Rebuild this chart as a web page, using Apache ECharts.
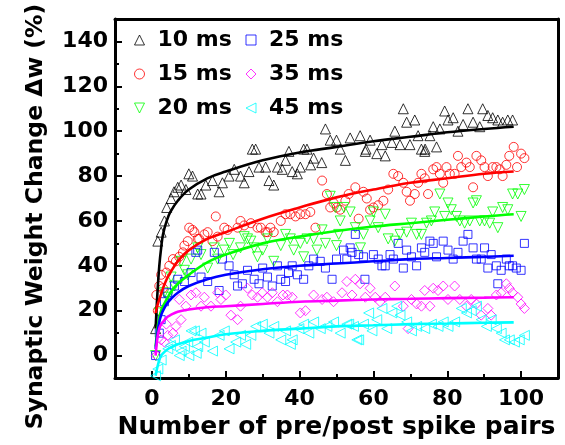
<!DOCTYPE html>
<html><head><meta charset="utf-8">
<script src="https://cdn.jsdelivr.net/npm/echarts@6/dist/echarts.min.js"></script>
<style>html,body{margin:0;padding:0;background:#fff}#c{width:565px;height:445px}</style>
</head><body><div id="c"></div>
<script>
const xTicks = [0,20,40,60,80,100];
const yTicks = [0,20,40,60,80,100,120,140];
const seriesNames = ['10 ms','15 ms','20 ms','25 ms','35 ms','45 ms'];
const xTitle = 'Number of pre/post spike pairs';
const yTitle = 'Synaptic Weight Change \u0394w (%)';

const t10 = [[1,12],[1.6,51],[2.5,55],[3.4,60],[4,66],[5.2,70],[6,73],[7,75],[7.9,76],[9.2,74],[10,81],[11,80],[12.4,72],[13.3,72],[14.6,76],[16.4,78],[18.2,73],[19.1,77],[20.9,80],[22.3,83],[24,80],[25,77],[26.3,82],[27.2,92],[28.1,92],[29,84],[30.8,84],[31.7,78],[33,76],[34,84],[35.3,83],[36.2,87],[37.1,91],[38,82],[39.4,81],[40.2,84],[41.1,92],[42,92],[43,85],[43.8,88],[46,86],[47,101],[48.3,96],[50,96],[51,92],[52.4,87],[53.7,97],[56.4,98],[57.8,91],[58,92],[59.1,96],[60.9,90],[62.3,94],[63.2,89],[65,95],[65.8,100],[67.2,94],[68.1,110],[69,104],[69.9,94],[71.2,105],[72.1,98],[73,92],[73.9,91],[74,92],[75.3,98],[76.2,102],[77.1,93],[78,101],[79.3,109],[80.2,105],[81.6,106],[82.9,100],[84.3,103],[85.6,110],[87,104],[88.8,102],[89.6,110],[91,107],[92.3,106],[93.7,105],[95,104],[96.4,105],[97.7,105]];
const t15 = [[1.2,27],[1.6,20],[2,31],[2.5,36],[3,30],[3.9,37],[4.7,40],[5.7,43],[6.5,42],[7.4,44],[8.4,46],[8.8,49],[9.7,51],[10.1,57],[11,56],[11.5,55],[12.4,52],[12.8,52],[14.2,54],[15.1,55],[16.4,51],[17.3,62],[17.8,53],[19.6,57],[20.5,56],[23.2,57],[24,60],[25,58],[26.8,59],[28.6,57],[29.5,57],[30.8,55],[31.3,55],[32.1,57],[33,55],[34.9,60],[36.2,63],[37.5,63],[38.9,62],[40.2,63],[41.6,63],[42.9,64],[44.3,57],[46.1,78],[47.4,72],[48.3,66],[49.2,68],[50.1,66],[51,65],[52.4,69],[53.3,72],[55.1,75],[56,61],[57.3,73],[58.2,70],[59.1,65],[60,66],[61.3,67],[62.7,69],[64,74],[65.4,81],[66.7,80],[68.1,77],[69,73],[69.9,69],[71.2,72],[72.1,77],[73,81],[73.9,79],[74.8,72],[76.2,83],[77.1,84],[78,81],[78.9,77],[79.8,84],[80.7,81],[82,81],[82.9,89],[83.8,84],[85.2,86],[86.1,84],[87,75],[87.9,89],[89.2,87],[90.1,84],[91,80],[92.3,84],[93.3,84],[94.2,83],[95,80],[96,85],[96.8,89],[98,93],[98.9,84],[100,90],[100.9,88]];
const t20 = [[1,0],[2,19],[3.4,28],[4.3,26],[5.2,35],[6.1,31],[7.9,42],[8.8,38],[9.7,36],[10.6,43],[12.4,48],[13.3,45],[15.1,39],[16.9,48],[17.8,43],[19.6,47],[21,50],[22,45],[24,48],[25,53],[25.9,52],[26.8,51],[27.7,48],[28.6,44],[30,47],[31.3,52],[33,42],[34.9,49],[36.2,54],[37.5,52],[38.4,47],[40.2,50],[41.1,44],[42,52],[43.8,52],[44.7,47],[46.1,56],[47,50],[48.3,71],[49.7,66],[50,49],[50.6,54],[51,60],[52,66],[53.7,64],[55.1,57],[56.5,48],[57.3,54],[59.1,60],[60,64],[61.3,57],[63.2,63],[64,52],[65.8,51],[67.2,54],[69,55],[70.3,59],[71.7,54],[73,54],[74.4,59],[75.7,60],[76.6,64],[78,72],[79.3,62],[80.2,68],[81.1,65],[82.5,62],[83.4,60],[84.7,59],[86.1,60],[87,68],[87.9,69],[88.8,60],[90.1,60],[91.5,59],[92.3,64],[93.7,57],[95,66],[96.4,65],[97.7,72],[99.1,72],[100,62],[100.9,74]];
const t25 = [[1,0],[2,10],[2.5,16],[3.4,24],[4.3,28],[6.1,31],[7,34],[8.8,33],[10.6,37],[11.9,46],[12.4,47],[13.3,35],[15.1,33],[16.9,46],[18.2,29],[19.1,43],[20.9,40],[22.3,36],[23.2,31],[24.5,32],[25.9,38],[27.7,34],[29,32],[30,39],[31.3,35],[32.6,31],[34,40],[34.9,34],[36.2,33],[37,37],[38,40],[39.4,36],[41.1,34],[42.5,40],[43.8,43],[45.6,42],[47,39],[48.8,34],[50,43],[51.9,47],[52.8,43],[53.7,48],[54.2,46],[55.1,54],[56,45],[57.3,44],[57.7,34],[60,45],[61.3,43],[62.3,40],[63.2,40],[64.5,45],[65.4,43],[66.7,50],[68.1,39],[69,47],[70.3,44],[71.7,40],[73,48],[73.9,46],[75.3,51],[76.2,50],[77.1,44],[78.9,51],[80.2,47],[81.6,43],[82.9,46],[84.3,51],[85.6,54],[87,48],[87.9,43],[89.2,43],[90.1,48],[91,39],[91.9,45],[93.3,40],[93.7,32],[94.6,38],[96,43],[96.8,40],[97.7,40],[98.7,39],[100,38],[100.9,50]];
const t35 = [[1.2,0],[2.5,7],[3.4,6],[3.9,14],[4.3,9],[5.7,10],[6.5,13],[7.4,25],[7.9,16],[9.2,22],[10.6,27],[11.9,28],[13.3,22],[14.2,26],[16,22],[17.8,28],[18.7,25],[20,27],[21.4,18],[23.2,16],[24,22],[25.9,30],[27.2,27],[28.6,26],[29.9,28],[31.3,26],[32.6,28],[34,24],[35.5,27],[36.7,27],[38,26],[40.2,19],[41.6,20],[43.8,27],[46.1,25],[47.4,26],[49.2,24],[51.5,28],[52.8,33],[54.2,27],[55.1,34],[56.4,32],[57.8,26],[59.1,30],[60.5,26],[61.8,24],[63.2,26],[65.8,31],[68.1,22],[69.4,12],[70.3,25],[71.7,23],[73,22],[73.9,29],[75.3,22],[76.2,30],[77.5,29],[78.9,31],[80.2,25],[82,31],[83.4,25],[85.2,22],[86.5,25],[87.9,23],[89.2,18],[91,21],[91.9,18],[93.3,27],[94.6,28],[96,32],[96.8,30],[97.7,28],[99.1,26],[100,23],[100.9,21]];
const t45 = [[1,-9],[1.6,-6],[2.5,-2],[4.3,3],[5,4.5],[6.1,7],[7.4,0],[7.9,2],[8.8,4],[9.7,6],[10,0],[10.6,11],[11.5,11],[12,1],[12.4,4],[13.3,10],[14.2,6],[16.4,2],[18.2,9],[19.6,11],[20.9,3],[22.7,6],[24,9],[25.4,5],[26.8,9],[28.1,13],[29.9,14],[31.7,10],[33,13],[34.9,7],[36.2,11],[37.5,5],[38,7],[39.8,12],[41.1,14],[42.5,10],[43.8,15],[45.6,12],[47.4,13],[49.2,15],[51,10],[52.8,14],[53.3,14],[54.6,13],[55.5,7],[56,7],[57.3,14],[58.7,19],[59.6,11],[60.9,16],[62.3,21],[63.6,12],[65,19],[66.3,22],[67.2,18],[69,15],[70.3,11],[71.7,13],[73.9,12],[75.7,14],[77.5,13],[78.9,15],[80.2,13],[82,15],[83.8,21],[85.2,19],[86.5,20],[87.9,22],[89.2,16],[90.6,13],[91.9,16],[93.3,12],[94.6,10],[95.5,7],[96.8,7],[98.2,6],[99.5,7],[100.9,9]];

const fitX   = [1,1.5,2,2.5,3,4,5,7,10,15,20,30,40,50,60,70,80,90,98];
const fit10  = [12,28,40,48,54,60,64,69,74,79,82,87,90.5,93,95.5,97.5,99.5,101,102];
const fit15  = [19,22.5,25,27.5,30,34,37,42,47,52,55,61,66,70.5,74,77,79,81,82];
const fit20  = [4,12,17,20,22,25,28,32,36,41.5,45,50,53,55.5,57.5,59,60.5,62,63];
const fit25  = [3,10,15,18,20,23,25,28,31,34,36,38.5,40,41,42,43,43.5,44,44.5];
const fit35  = [0,8,12,14,15,17,18,19.5,20.5,21.5,22,23,24,24.5,25,25.3,25.6,25.8,26];
const fit45  = [-9,-5,-2,0,1,2.5,3.5,5,6.5,8,9.5,11,12,13,13.5,14,14.3,14.6,14.8];

const colors = ['#000000','#ff0000','#00ff00','#0000ff','#ff00ff','#00ffff'];
const FONT = '"DejaVu Sans", sans-serif';
const DOWN_TRI = 'path://M0,0L10,0L5,10Z';
const LEFT_TRI = 'path://M10,0L10,10L0,5Z';
const symbols = ['triangle','circle',DOWN_TRI,'rect','diamond',LEFT_TRI];
const sizes = [10,9,10,8,10,10];

function sc(i, data) {
  return {type:'scatter', name:seriesNames[i], data:data, symbol:symbols[i], symbolSize:sizes[i],
    itemStyle:{color:'transparent', borderColor:colors[i], borderWidth:1}, z:2, silent:true};
}
function fit(name, ys, color) {
  return {type:'line', name:name, data:fitX.map((x,i)=>[x,ys[i]]), showSymbol:false, symbol:'none',
    smooth:0.4, lineStyle:{color:color, width:2.6}, z:5, silent:true};
}
function legendItems(idx) {
  return idx.map(i => ({name:seriesNames[i], icon:symbols[i],
    itemStyle:{color:'transparent', borderColor:colors[i], borderWidth:1}}));
}

const chart = echarts.init(document.getElementById('c'), null, {renderer:'canvas'});
const lblStyle = {fontFamily:FONT, fontWeight:'bold', fontSize:22, color:'#000'};
const legendCommon = {orient:'vertical', padding:0, itemGap:12, itemWidth:10, itemHeight:10,
  textStyle:{fontFamily:FONT, fontWeight:'bold', fontSize:22, color:'#000', lineHeight:22, padding:[0,0,0,8]},
  itemStyle:{borderWidth:1}, selectedMode:false};
const noLine = {show:false, onZero:false};
const frameLine = {show:true, onZero:false, lineStyle:{color:'#000', width:3}};
chart.setOption({
  animation:false,
  backgroundColor:'#fff',
  grid:{left:115, top:19, right:7, bottom:67},
  legend:[
    Object.assign({left:134, top:29, data:legendItems([0,1,2])}, legendCommon),
    Object.assign({left:245.5, top:29, data:legendItems([3,4,5])}, legendCommon)
  ],
  graphic:[
    {type:'text', x:36, y:216.5, rotation:Math.PI/2, silent:true,
     style:{text:yTitle, fill:'#000', font:'bold 23.5px ' + FONT, textAlign:'center', textVerticalAlign:'middle'}}
  ],
  xAxis:[
    {type:'value', min:-10, max:110, position:'bottom', axisLine:frameLine,
     axisTick:{show:true, inside:true, length:7, lineStyle:{width:2, color:'#000'}, customValues:xTicks},
     axisLabel:Object.assign({margin:10, customValues:xTicks}, lblStyle),
     splitLine:{show:false},
     name:xTitle, nameLocation:'middle', nameGap:37,
     nameTextStyle:{fontFamily:FONT, fontWeight:'bold', fontSize:25, color:'#000'}},
    {type:'value', min:-10, max:110, interval:10, position:'bottom', axisLine:noLine,
     axisTick:{show:true, inside:true, length:4, lineStyle:{width:2, color:'#000'}},
     axisLabel:{show:false}, splitLine:{show:false}},
    {type:'value', min:-10, max:110, position:'top', axisLine:frameLine,
     axisTick:{show:false}, axisLabel:{show:false}, splitLine:{show:false}}
  ],
  yAxis:[
    {type:'value', min:-10, max:150, position:'left', axisLine:frameLine,
     axisTick:{show:true, inside:true, length:7, lineStyle:{width:2, color:'#000'}, customValues:yTicks},
     axisLabel:Object.assign({margin:7, customValues:yTicks}, lblStyle),
     splitLine:{show:false}},
    {type:'value', min:-10, max:150, interval:10, position:'left', axisLine:noLine,
     axisTick:{show:true, inside:true, length:4, lineStyle:{width:2, color:'#000'}},
     axisLabel:{show:false}, splitLine:{show:false}},
    {type:'value', min:-10, max:150, position:'right', axisLine:frameLine,
     axisTick:{show:false}, axisLabel:{show:false}, splitLine:{show:false}}
  ],
  series:[
    sc(0, t10), sc(1, t15), sc(2, t20), sc(3, t25), sc(4, t35), sc(5, t45),
    fit('f10', fit10, colors[0]),
    fit('f15', fit15, colors[1]),
    fit('f20', fit20, colors[2]),
    fit('f25', fit25, colors[3]),
    fit('f35', fit35, colors[4]),
    fit('f45', fit45, colors[5])
  ]
});
</script></body></html>
